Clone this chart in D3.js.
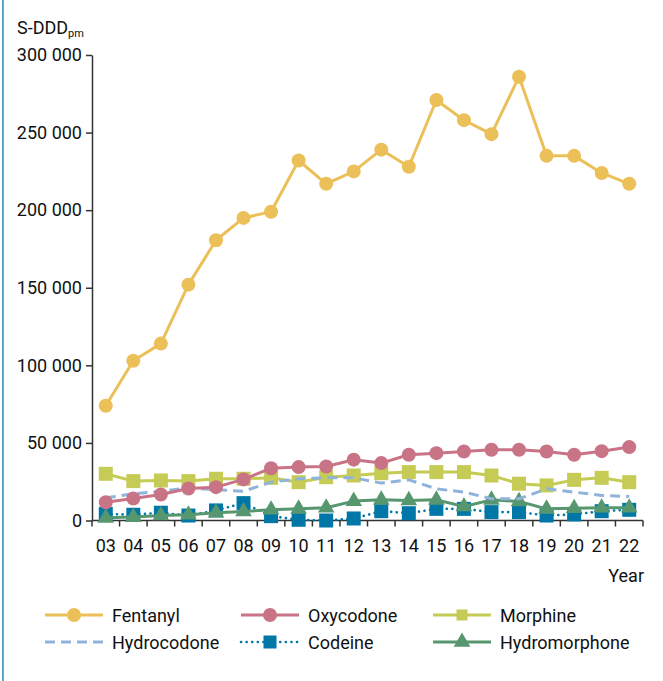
<!DOCTYPE html>
<html><head><meta charset="utf-8">
<script src="https://cdn.jsdelivr.net/npm/d3@7"></script>
<style>
html,body{margin:0;padding:0;background:#fff;}
svg text{font-family:Roboto,"Liberation Sans",sans-serif;fill:#111;}
</style></head>
<body><svg id="c" width="663" height="681"></svg>
<script>
const years = ["03","04","05","06","07","08","09","10","11","12","13","14","15","16","17","18","19","20","21","22"];
const fentanyl = [74000,103000,114000,152000,180600,195000,199000,232000,217000,225000,239000,228000,271000,258000,249000,286000,235000,235000,224000,217000];
const oxycodone = [11800,14200,16800,20600,21500,26500,33700,34400,34800,39200,37000,42400,43400,44500,45600,45600,44500,42400,44700,47300];
const morphine = [30100,25400,25800,25400,26900,26900,27500,24700,27900,29000,30500,31200,31200,31200,29000,23700,22600,26200,27500,24700];
const hydrocodone = [14600,17200,18900,21100,19800,18900,24700,26900,27500,27500,24100,26200,20400,18300,14000,14000,20400,18300,16100,15500];
const codeine = [4300,3700,5000,3200,6500,11200,2800,450,0,1300,6000,4700,7500,7500,5400,5400,3200,3900,6000,6900];
const hydromorphone = [1700,2200,3200,3700,5000,5800,6900,7500,8200,12500,13300,12900,13300,9000,13300,12300,7500,7900,8200,8200];
const yTicks = [0,50000,100000,150000,200000,250000,300000];
const seriesNames = ["Fentanyl","Oxycodone","Morphine","Hydrocodone","Codeine","Hydromorphone"];

const series = [
  {name:"Codeine", values:codeine, color:"#0077a6", dash:"0.1 5.5", width:2.6, marker:"square", cap:"round"},
  {name:"Hydromorphone", values:hydromorphone, color:"#579770", dash:null, width:3, marker:"triangle"},
  {name:"Morphine", values:morphine, color:"#c6cb55", dash:null, width:3, marker:"square"},
  {name:"Hydrocodone", values:hydrocodone, color:"#8fb3d9", dash:"10 6", width:3, marker:null},
  {name:"Oxycodone", values:oxycodone, color:"#c97386", dash:null, width:3, marker:"circle"},
  {name:"Fentanyl", values:fentanyl, color:"#ebc058", dash:null, width:3, marker:"circle"}
];

const svg = d3.select("#c");
svg.append("rect").attr("x",2).attr("y",0).attr("width",1.8).attr("height",681).attr("fill","#4f9cc4");

const x = d3.scaleBand().domain(years).range([92,643]);
const y = d3.scaleLinear().domain([0,300000]).range([520.5,55]);
const loc = d3.formatLocale({decimal:".",thousands:" ",grouping:[3],currency:["",""]});
const fmt = loc.format(",d");

const ya = svg.append("g").attr("transform","translate(92,0)")
  .call(d3.axisLeft(y).tickValues(yTicks).tickFormat(fmt).tickSize(6).tickSizeOuter(0).tickPadding(4));
ya.select(".domain").attr("stroke","#333").attr("stroke-width",1.5);
ya.selectAll(".tick line").attr("stroke","#333").attr("stroke-width",1.5);
ya.selectAll(".tick text").attr("font-size",18).attr("fill","#111");

const xa = svg.append("g").attr("transform","translate(0,520.5)");
xa.append("line").attr("x1",x.range()[0]).attr("x2",x.range()[1]).attr("stroke","#333").attr("stroke-width",1.5);
const edges = years.map(d=>x(d)).concat([x.range()[1]]);
xa.selectAll("line.t").data(edges).enter().append("line").attr("class","t")
  .attr("x1",d=>d).attr("x2",d=>d).attr("y1",0).attr("y2",6).attr("stroke","#333").attr("stroke-width",1.5);
xa.selectAll("text").data(years).enter().append("text")
  .attr("x",d=>x(d)+x.bandwidth()/2).attr("y",31).attr("text-anchor","middle").attr("font-size",18).text(d=>d);

svg.append("text").attr("x",644).attr("y",582).attr("text-anchor","end").attr("font-size",18).text("Year");
const t = svg.append("text").attr("x",17).attr("y",34).attr("font-size",18);
t.append("tspan").text("S-DDD");
t.append("tspan").attr("font-size",11).attr("dy",3).text("pm");

function sym(m){
  if(m==="circle") return d3.symbol().type(d3.symbolCircle).size(Math.PI*7*7)();
  if(m==="square") return d3.symbol().type(d3.symbolSquare).size(14*14)();
  if(m==="triangle") return d3.symbol().type(d3.symbolTriangle).size(120)();
  return null;
}

const line = d3.line().x((d,i)=>x(years[i])+x.bandwidth()/2).y(d=>y(d));
series.forEach(s=>{
  const g = svg.append("g");
  g.append("path").attr("d",line(s.values)).attr("fill","none").attr("stroke",s.color)
    .attr("stroke-width",s.width).attr("stroke-dasharray",s.dash).attr("stroke-linecap",s.cap||"butt").attr("stroke-linejoin","round");
  if(s.marker){
    g.selectAll("path.m").data(s.values).enter().append("path").attr("class","m")
      .attr("d",sym(s.marker)).attr("fill",s.color)
      .attr("transform",(d,i)=>`translate(${x(years[i])+x.bandwidth()/2},${y(d)})`);
  }
});

const legendPos = {
  "Fentanyl":[45,615],"Oxycodone":[241,615],"Morphine":[433,615],
  "Hydrocodone":[45,642],"Codeine":[241,642],"Hydromorphone":[433,642]
};
seriesNames.forEach(n=>{
  const s = series.find(d=>d.name===n);
  const [lx,ly] = legendPos[n];
  const g = svg.append("g").attr("transform",`translate(${lx},${ly})`);
  g.append("line").attr("x1",0).attr("x2",58).attr("y1",0).attr("y2",0).attr("stroke",s.color)
    .attr("stroke-width",s.width).attr("stroke-dasharray",s.dash).attr("stroke-linecap",s.cap||"butt");
  if(s.marker){
    const sz = s.marker==="circle"?Math.PI*7*7:(s.marker==="square"? (n==="Codeine"?13*13:11*11):120);
    const type = s.marker==="circle"?d3.symbolCircle:(s.marker==="square"?d3.symbolSquare:d3.symbolTriangle);
    g.append("path").attr("d",d3.symbol().type(type).size(sz)()).attr("transform","translate(29,0)").attr("fill",s.color);
  }
  g.append("text").attr("x",67).attr("y",6.5).attr("font-size",18).text(n);
});
</script></body></html>
